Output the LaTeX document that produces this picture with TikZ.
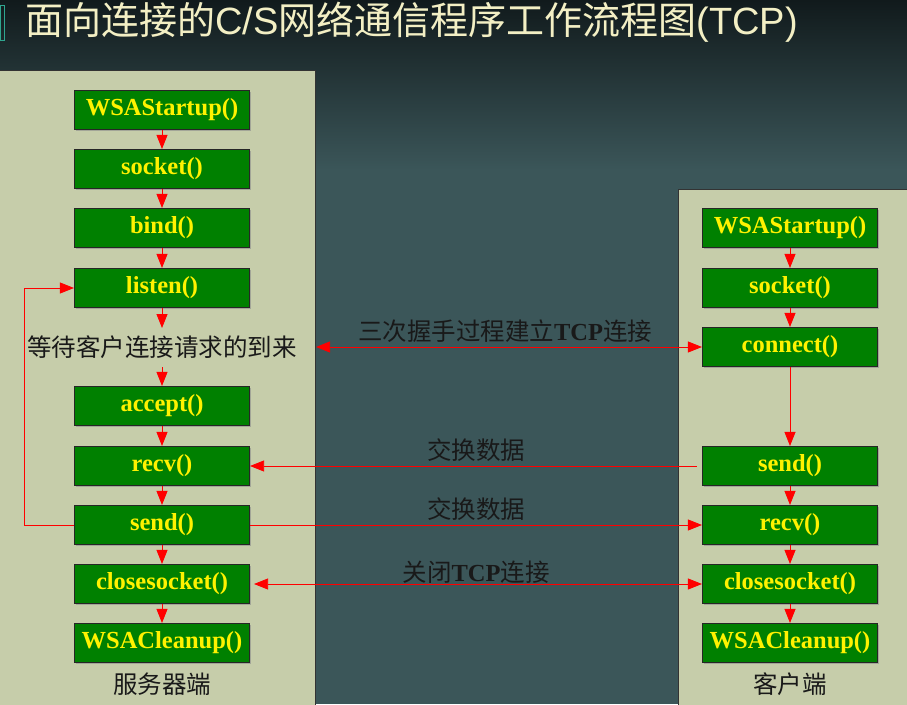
\documentclass[tikz,border=0pt]{standalone}
\usepackage{fontspec}
\setmainfont{Liberation Serif}
\newfontfamily\cjk{Noto Sans CJK SC}
\newfontfamily\tsans{Liberation Sans}
\usetikzlibrary{arrows.meta,shadows}
\definecolor{bgtop}{HTML}{111A1C}
\definecolor{bgbot}{HTML}{3B5659}
\definecolor{panelc}{HTML}{C6CDAA}
\definecolor{boxg}{HTML}{008000}
\definecolor{titlec}{HTML}{F3EFC4}
\definecolor{accent}{HTML}{2FA58F}
\tikzset{
 fbox/.style={draw=black!85, line width=1.1pt, fill=boxg, text=yellow,
   font=\bfseries\fontsize{24.5}{26}\selectfont, minimum width=175pt,
   minimum height=39pt, inner sep=0pt,
   drop shadow={shadow xshift=1.5pt, shadow yshift=-1.5pt, fill=black!45, opacity=.6}},
 panel/.style={draw=black!80, line width=1.1pt, fill=panelc, anchor=north west, inner sep=0pt},
 flow/.style={draw=red, line width=0.8pt, -{Triangle[length=14pt,width=11pt]}},
 both/.style={draw=red, line width=0.8pt, {Triangle[length=14pt,width=11pt]}-{Triangle[length=14pt,width=11pt]}},
 lab/.style={font=\fontsize{24.5}{26}\selectfont, text=black!90, inner sep=0pt},
 cjklab/.style={lab, font=\cjk\fontsize{24.5}{26}\selectfont},
}
\begin{document}
\begin{tikzpicture}[x=1pt,y=-1pt]
\useasboundingbox (0,0) rectangle (907,704);
% background
\shade[top color=bgtop, bottom color=bgbot] (0,0) rectangle (907,170);
\fill[bgbot] (0,169.5) rectangle (907,704);
\draw[accent, line width=1pt] (0.5,5) rectangle (4,40);
% title
\node (title) [anchor=west, text=titlec, font=\cjk\fontsize{38}{40}\selectfont, inner sep=0pt]
  at (25,22) {面向连接的{\tsans C/S}网络通信程序工作流程图{\tsans (TCP)}};
% panels
\node (lp) [panel, minimum width=317pt, minimum height=640pt] at (-2,70) {};
\node (rp) [panel, minimum width=235pt, minimum height=520pt] at (678,189) {};
% server boxes
\node (s1) [fbox] at (162,110) {WSAStartup()};
\node (s2) [fbox] at (162,169) {socket()};
\node (s3) [fbox] at (162,228) {bind()};
\node (s4) [fbox] at (162,288) {listen()};
\node (wait) [cjklab] at (162,347) {等待客户连接请求的到来};
\coordinate (w1) at (162,328);
\coordinate (w2) at (162,367);
\node (s5) [fbox] at (162,406) {accept()};
\node (s6) [fbox] at (162,466) {recv()};
\node (s7) [fbox] at (162,525) {send()};
\node (s8) [fbox] at (162,584) {closesocket()};
\node (s9) [fbox] at (162,643) {WSACleanup()};
\node (slab) [cjklab] at (162,684) {服务器端};
% client boxes
\node (c1) [fbox] at (790,228) {WSAStartup()};
\node (c2) [fbox] at (790,288) {socket()};
\node (c3) [fbox] at (790,347) {connect()};
\node (c4) [fbox] at (790,466) {send()};
\node (c5) [fbox] at (790,525) {recv()};
\node (c6) [fbox] at (790,584) {closesocket()};
\node (c7) [fbox] at (790,643) {WSACleanup()};
\node (clab) [cjklab] at (790,684) {客户端};
% server flow
\draw[flow] (s1) -- (s2);
\draw[flow] (s2) -- (s3);
\draw[flow] (s3) -- (s4);
\draw[flow] (s4.south) -- (w1);
\draw[flow] (w2) -- (s5.north);
\draw[flow] (s5) -- (s6);
\draw[flow] (s6) -- (s7);
\draw[flow] (s7) -- (s8);
\draw[flow] (s8) -- (s9);
\draw[flow] (s7.west) -- ++(-50,0) |- (s4.west);
% client flow
\draw[flow] (c1) -- (c2);
\draw[flow] (c2) -- (c3);
\draw[flow] (c3) -- (c4);
\draw[flow] (c4) -- (c5);
\draw[flow] (c5) -- (c6);
\draw[flow] (c6) -- (c7);
% cross connectors
\draw[both] (c3.west) -- (c3.west -| lp.east);
\draw[flow] ([xshift=-5pt]c4.west) -- (s6.east);
\draw[flow] (s7.east) -- (c5.west);
\draw[both] ([xshift=4pt]s8.east) -- (c6.west);
% labels
\node (l1) [lab] at (505,331) {{\cjk 三次握手过程建立}\textbf{TCP}{\cjk 连接}};
\node (l2) [cjklab] at (476,450) {交换数据};
\node (l3) [cjklab] at (476,509) {交换数据};
\node (l4) [lab] at (476,572) {{\cjk 关闭}\textbf{TCP}{\cjk 连接}};
\end{tikzpicture}
\end{document}
